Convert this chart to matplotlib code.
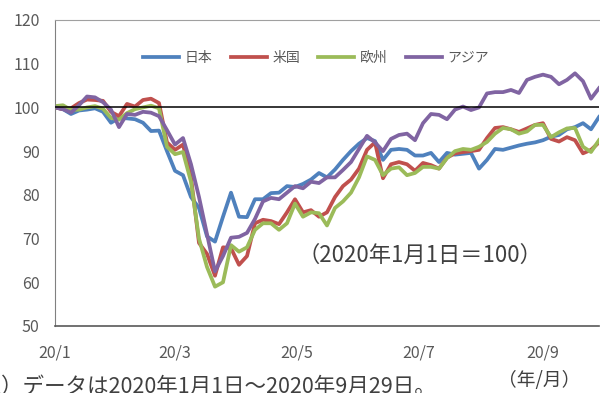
import numpy as np
import pandas as pd
import matplotlib
matplotlib.use("Agg")
import matplotlib.pyplot as plt

plt.rcParams['font.family'] = ['Noto Sans CJK JP', 'DejaVu Sans']

# 4-day grid, 2020-01-01 .. 2020-09-29
dates = pd.date_range('2020-01-01', '2020-09-29', freq='4D')

japan = [100, 99.6, 98.5, 99.3, 99.5, 99.8, 99.0, 96.5, 97.6, 97.5, 97.3, 96.5, 94.6, 94.7,
         90.0, 85.5, 84.5, 79.5, 77.0, 70.5, 69.3, 75.0, 80.5, 75.0, 74.9, 79.0, 79.0, 80.4,
         80.5, 82.0, 81.8, 82.5, 83.5, 85.0, 84.0, 85.8, 88.0, 90.0, 91.7, 93.0, 92.3, 88.0,
         90.3, 90.5, 90.3, 89.0, 89.0, 89.6, 87.5, 89.6, 89.2, 89.4, 89.6, 86.0, 88.0, 90.5,
         90.3, 90.8, 91.3, 91.7, 92.0, 92.5, 93.3, 93.7, 95.0, 95.5, 96.4, 95.0, 97.8]
usa = [100, 99.6, 99.8, 101.0, 101.8, 101.7, 101.5, 99.0, 98.0, 100.8, 100.2, 101.7, 102.0, 101.0,
       92.0, 90.3, 91.5, 84.0, 69.0, 66.5, 61.5, 68.0, 67.8, 64.0, 66.0, 73.5, 74.3, 74.0,
       73.3, 76.0, 79.0, 76.0, 76.5, 75.0, 76.0, 79.5, 82.0, 83.5, 86.0, 90.3, 92.0, 83.8,
       87.0, 87.5, 87.0, 85.5, 87.3, 86.8, 86.0, 88.5, 89.5, 89.8, 90.0, 90.3, 93.0, 95.3,
       95.5, 95.0, 94.4, 95.2, 96.0, 96.4, 92.8, 92.2, 93.2, 92.5, 89.5, 90.3, 92.0]
europe = [100.3, 100.5, 99.4, 99.5, 100.0, 100.3, 99.7, 97.6, 97.2, 98.7, 99.6, 100.0, 100.4, 99.8,
          91.0, 89.3, 89.8, 83.0, 70.0, 63.5, 59.0, 60.0, 68.5, 67.0, 68.0, 72.0, 73.5, 73.5,
          72.0, 73.5, 78.0, 75.0, 76.0, 75.8, 73.0, 77.0, 78.5, 80.5, 84.0, 88.8, 88.0, 84.5,
          86.0, 86.3, 84.5, 85.0, 86.4, 86.4, 86.0, 88.4, 90.0, 90.5, 90.3, 91.0, 92.1, 94.0,
          95.3, 95.0, 94.0, 94.5, 96.0, 96.0, 93.2, 94.3, 95.2, 95.3, 91.0, 89.8, 92.5]
asia = [100, 99.6, 98.8, 100.5, 102.5, 102.3, 101.2, 99.5, 95.5, 98.5, 98.3, 99.0, 98.8, 98.0,
        94.8, 91.5, 93.0, 87.0, 79.5, 71.0, 62.5, 66.0, 70.2, 70.4, 71.3, 74.5, 78.5, 79.3,
        79.0, 80.5, 82.0, 81.5, 83.0, 82.7, 84.0, 84.0, 85.7, 87.5, 90.5, 93.5, 92.0, 90.0,
        92.8, 93.7, 94.0, 92.5, 96.4, 98.5, 98.3, 97.3, 99.5, 100.2, 99.4, 100.0, 103.2, 103.5,
        103.5, 104.0, 103.3, 106.3, 107.0, 107.5, 107.0, 105.3, 106.3, 107.8, 106.0, 102.0, 104.4]

names = ['日本', '米国', '欧州', 'アジア']
colors = ['#4F81BD', '#C0504D', '#9BBB59', '#8064A2']
xticks = pd.to_datetime(['2020-01-01', '2020-03-01', '2020-05-01', '2020-07-01', '2020-09-01'])
xticklabels = ['20/1', '20/3', '20/5', '20/7', '20/9']
yticks = [50, 60, 70, 80, 90, 100, 110, 120]

fig = plt.figure(figsize=(6.0, 3.93), dpi=100)
ax = fig.add_axes([55/600, 1-326/393, 544/600, 306/393])

for series, name, c in zip([japan, usa, europe, asia], names, colors):
    ax.plot(dates, series, color=c, lw=2.7, label=name, solid_joinstyle='round')

ax.axhline(100, color='black', lw=1.1, zorder=5)

ax.set_ylim(50, 120)
ax.set_xlim(pd.Timestamp('2020-01-01'), pd.Timestamp('2020-09-29'))
ax.set_yticks(yticks)
ax.set_xticks(xticks)
ax.set_xticklabels(xticklabels)
ax.tick_params(axis='both', length=0, labelsize=11.5, labelcolor='#595959')
ax.tick_params(axis='y', pad=11)
ax.tick_params(axis='x', pad=13)

ax.spines['right'].set_visible(False)
ax.spines['left'].set_color('#808080')
ax.spines['top'].set_color('#a0a0a0')
ax.spines['bottom'].set_color('#595959')
ax.spines['bottom'].set_linewidth(1.2)

leg = ax.legend(loc='center', bbox_to_anchor=(0.527, 0.853), bbox_transform=fig.transFigure,
                ncol=4, frameon=False, fontsize=10, handlelength=2.6, columnspacing=1.3,
                handletextpad=0.4)
for t in leg.get_texts():
    t.set_color('#595959')

fig.text(0.7, 0.351, '（2020年1月1日＝100）', fontsize=16, color='#404040',
         ha='center', va='center')

# note and unit labels, partly cut off at the edges like the source
fig.text(-0.07, 1-376/393, '（注）データは2020年1月1日～2020年9月29日。', fontsize=15.5,
         color='#404040', ha='left', va='top')
fig.text(0.967, 1-370/393, '（年/月）', fontsize=13.5, color='#404040', ha='right', va='top')
fig.text(0.0, 1+9/393, '（％）', fontsize=12, color='#595959', ha='left', va='center')

fig.savefig('out.png', dpi=100)
